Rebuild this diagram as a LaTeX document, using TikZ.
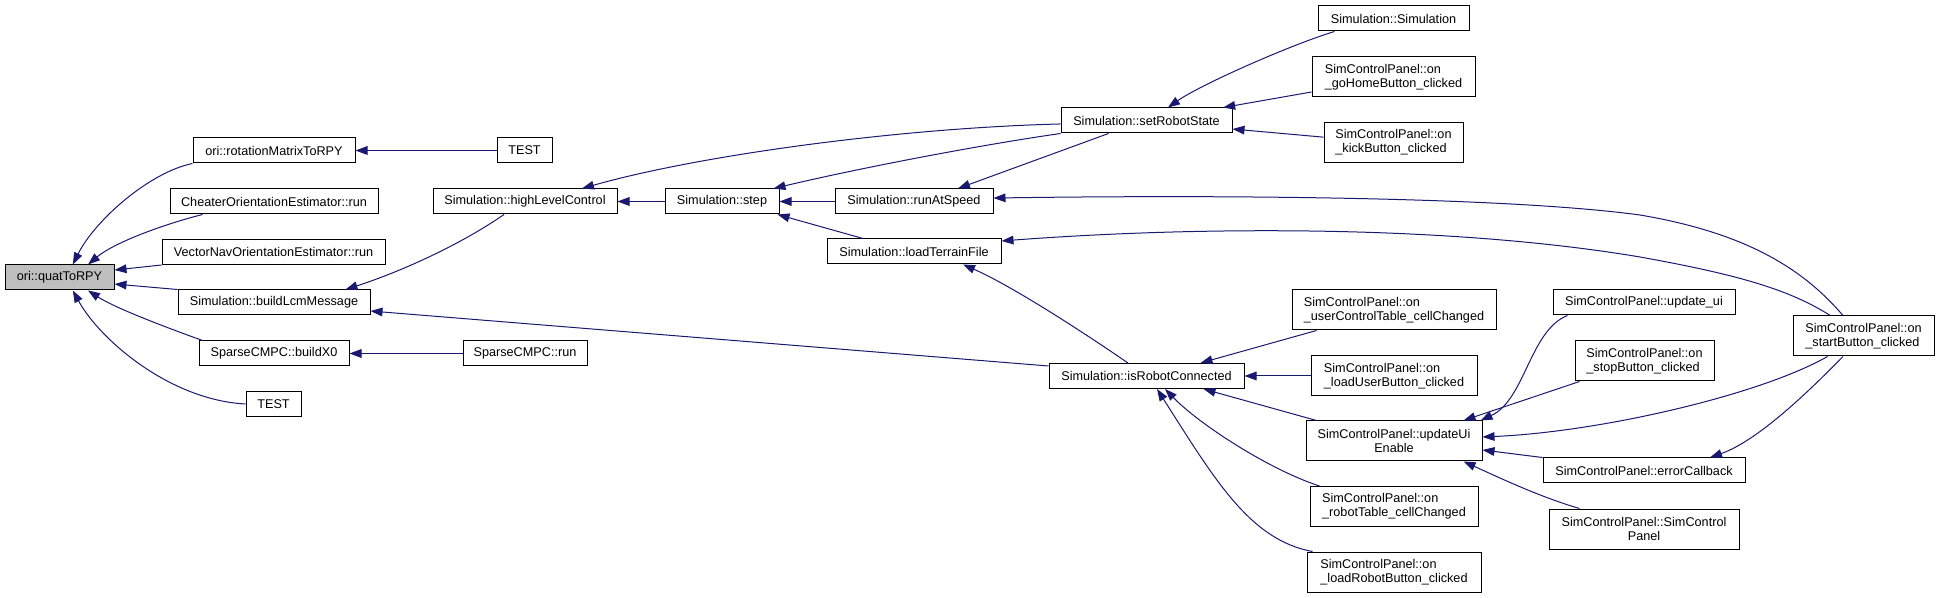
\documentclass[tikz,border=0pt]{standalone}
\usepackage{fontspec}
\setmainfont{Liberation Sans}
\usetikzlibrary{arrows.meta}
\definecolor{edgeblue}{HTML}{191970}
\begin{document}
\begin{tikzpicture}[x=0.75pt,y=-0.75pt,>={Triangle[length=9pt,width=6.5pt]},
  fn/.style={draw=black,fill=white,line width=0.75pt,inner xsep=2pt,inner ysep=1pt,
    minimum height=18.75pt,font=\fontsize{9.5}{10.5}\selectfont},
  fnn/.style={fn,minimum height=30pt,align=left},
  cur/.style={fn,fill=black!25},
  call/.style={->,draw=edgeblue,line width=0.75pt}]
  \useasboundingbox (0,0) rectangle (1939,598);
  \node[cur,minimum width=81.75pt] (qt) at (59.5,277.5) {ori::quatToRPY};
  \node[fn,minimum width=121.5pt] (rot) at (274,150.5) {ori::rotationMatrixToRPY};
  \node[fn,minimum width=156pt] (cheat) at (274,201.5) {CheaterOrientationEstimator::run};
  \node[fn,minimum width=167.25pt] (vec) at (273.5,252) {VectorNavOrientationEstimator::run};
  \node[fn,minimum width=144pt] (lcm) at (274,302.5) {Simulation::buildLcmMessage};
  \node[fn,minimum width=112.5pt] (x0) at (274,353.5) {SparseCMPC::buildX0};
  \node[fn,minimum width=41.25pt] (testb) at (273.5,404) {TEST};
  \node[fn,minimum width=41.25pt] (testa) at (524.5,150.5) {TEST};
  \node[fn,minimum width=138pt] (hlc) at (525,201.5) {Simulation::highLevelControl};
  \node[fn,minimum width=93pt] (cmpcrun) at (525,353.5) {SparseCMPC::run};
  \node[fn,minimum width=85.5pt] (step) at (722,201.5) {Simulation::step};
  \node[fn,minimum width=128.25pt] (srs) at (1146.5,120.5) {Simulation::setRobotState};
  \node[fn,minimum width=118.5pt] (ras) at (914,201.5) {Simulation::runAtSpeed};
  \node[fn,minimum width=130.5pt] (ltf) at (914,251.5) {Simulation::loadTerrainFile};
  \node[fn,minimum width=146.25pt] (isrc) at (1146.5,376) {Simulation::isRobotConnected};
  \node[fn,minimum width=113.25pt] (sim) at (1393.5,18.5) {Simulation::Simulation};
  \node[fnn,minimum width=122.25pt] (gohome) at (1393.5,77) {SimControlPanel::on\\\_goHomeButton\_clicked};
  \node[fnn,minimum width=104.25pt] (kick) at (1393.5,142.5) {SimControlPanel::on\\\_kickButton\_clicked};
  \node[fnn,minimum width=153pt] (uct) at (1394,310) {SimControlPanel::on\\\_userControlTable\_cellChanged};
  \node[fnn,minimum width=124.5pt] (lub) at (1394,376) {SimControlPanel::on\\\_loadUserButton\_clicked};
  \node[fnn,align=center,minimum width=132pt] (uue) at (1394,441) {SimControlPanel::updateUi\\Enable};
  \node[fnn,minimum width=126pt] (rtc) at (1394,506.5) {SimControlPanel::on\\\_robotTable\_cellChanged};
  \node[fnn,minimum width=130.5pt] (lrb) at (1394,572) {SimControlPanel::on\\\_loadRobotButton\_clicked};
  \node[fn,minimum width=136.5pt] (uui) at (1644,302.5) {SimControlPanel::update\_ui};
  \node[fnn,minimum width=104.25pt] (stop) at (1644.5,361) {SimControlPanel::on\\\_stopButton\_clicked};
  \node[fn,minimum width=151.5pt] (err) at (1644,470.5) {SimControlPanel::errorCallback};
  \node[fnn,align=center,minimum width=142.5pt] (scp) at (1644,529) {SimControlPanel::SimControl\\Panel};
  \node[fnn,minimum width=105.75pt] (start) at (1863.5,336) {SimControlPanel::on\\\_startButton\_clicked};
  % callers of quatToRPY
  \draw[call] (rot.south west) .. controls (150,172) and (95,220) .. ([xshift=10pt]qt.north);
  \draw[call] ([xshift=24.75pt]cheat.south west) .. controls (165,224) and (115,242) .. ([xshift=21.4pt]qt.north);
  \draw[call] (vec.south west) -- ([yshift=5.6pt]qt.east);
  \draw[call] (lcm.north west) -- ([yshift=-4.9pt]qt.east);
  \draw[call] ([xshift=3pt]x0.north west) .. controls (165,327) and (115,308) .. ([xshift=21.4pt]qt.south);
  \draw[call] (testb.west) .. controls (170,400) and (100,340) .. ([xshift=10pt]qt.south);
  \draw[call] (testa) -- (rot);
  \draw[call] (cmpcrun) -- (x0);
  \draw[call] ([xshift=-15.75pt]hlc.south) .. controls (460,245) and (400,272) .. ([xshift=-18.75pt]lcm.north east);
  \draw[call] ([yshift=7.5pt]isrc.west) -- ([yshift=-6.4pt]lcm.east);
  % simulation loop
  \draw[call] (step) -- (hlc);
  \draw[call] ([yshift=-2.6pt]srs.west) .. controls (900,128) and (700,155) .. ([xshift=42.75pt]hlc.north);
  \draw[call] (srs.south west) .. controls (980,145) and (860,168) .. ([xshift=-4.5pt]step.north east);
  \draw[call] (ras) -- (step);
  \draw[call] ([xshift=-38.25pt]ltf.north) -- ([xshift=-1.5pt]step.south east);
  \draw[call] ([xshift=-28.5pt]srs.south) -- ([xshift=33pt]ras.north);
  \draw[call] ([xshift=12.75pt]sim.south west) .. controls (1290,45) and (1200,85) .. ([xshift=16.1pt]srs.north);
  \draw[call] ([yshift=-11.25pt]gohome.west) -- ([xshift=-7pt]srs.north east);
  \draw[call] ([yshift=4pt]kick.west) -- ([yshift=-6.4pt]srs.east);
  \draw[call] ([xshift=-15.4pt]start.north) .. controls (1800,265) and (1740,232) .. (1640,215)
    .. controls (1500,196) and (1200,195) .. ([yshift=2.6pt]ras.east);
  \draw[call] ([xshift=-25pt]start.north) .. controls (1790,290) and (1740,275) .. (1640,257)
    .. controls (1450,225) and (1200,226) .. ([yshift=7.9pt]ltf.east);
  \draw[call] ([xshift=-13.9pt]isrc.north) .. controls (1080,330) and (1010,285) .. ([xshift=36.75pt]ltf.south);
  % control panel
  \draw[call] ([xshift=18.75pt]uct.south west) -- ([xshift=-33pt]isrc.north east);
  \draw[call] (lub) -- (isrc);
  \draw[call] ([xshift=8.25pt]uue.north west) -- ([xshift=-30.75pt]isrc.south east);
  \draw[call] ([xshift=7.5pt]rtc.north west) .. controls (1270,470) and (1200,425) .. ([xshift=13.9pt]isrc.south);
  \draw[call] ([xshift=4.5pt]lrb.north west) .. controls (1250,540) and (1215,480) .. ([xshift=7.9pt]isrc.south);
  \draw[call] ([xshift=11.25pt]uui.south west) .. controls (1530,330) and (1525,400) .. ([xshift=-1.5pt]uue.north east);
  \draw[call] ([xshift=3.75pt]stop.south west) -- ([xshift=-14.25pt]uue.north east);
  \draw[call] ([xshift=26.25pt]start.south west) .. controls (1760,395) and (1600,432) .. ([yshift=3pt]uue.east);
  \draw[call] (err.north west) -- ([yshift=-6.75pt]uue.east);
  \draw[call] ([xshift=23.25pt]scp.north west) .. controls (1540,497) and (1500,478) .. ([xshift=-14.25pt]uue.south east);
  \draw[call] ([xshift=-15.4pt]start.south) .. controls (1815,385) and (1760,440) .. ([xshift=49.5pt]err.north);
\end{tikzpicture}
\end{document}
